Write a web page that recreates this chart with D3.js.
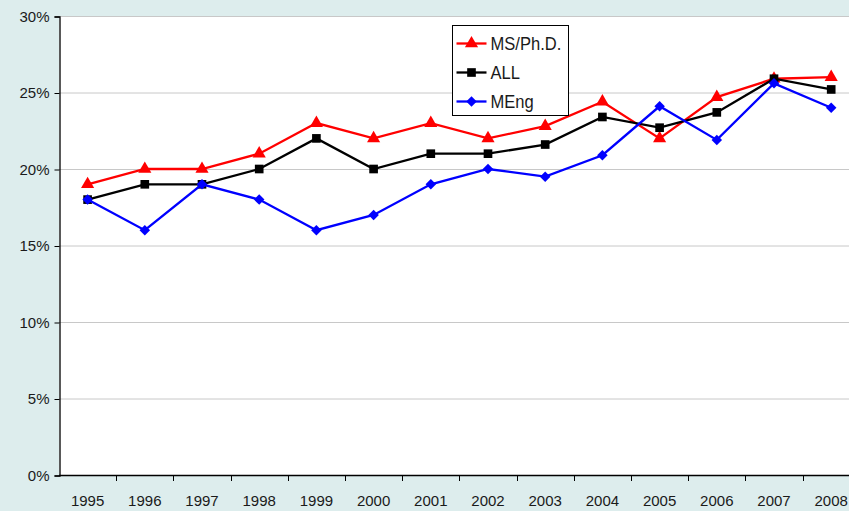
<!DOCTYPE html>
<html>
<head>
<meta charset="utf-8">
<script src="https://cdn.jsdelivr.net/npm/d3@7"></script>
<style>
  body { margin: 0; background: #ddeded; }
  svg { display: block; }
  text { font-family: "Liberation Sans", Arial, sans-serif; fill: #1a1a1a; }
</style>
</head>
<body>
<div id="chart"></div>
<script>
// Chart data (share of graduates, %)
var years = ["1995", "1996", "1997", "1998", "1999", "2000", "2001",
             "2002", "2003", "2004", "2005", "2006", "2007", "2008"];
var msPhd = [19, 20, 20, 21, 23, 22, 23, 22, 22.8, 24.4, 22, 24.7, 25.9, 26.0];
var all   = [18, 19, 19, 20, 22, 20, 21, 21, 21.6, 23.4, 22.7, 23.7, 25.9, 25.2];
var meng  = [18, 16, 19, 18, 16, 17, 19, 20, 19.5, 20.9, 24.1, 21.9, 25.6, 24.0];
var yTicks = [0, 5, 10, 15, 20, 25, 30];

// square-ish diamond like the spreadsheet marker (d3's own is too narrow)
var diamond = {
  draw: function(ctx, size) {
    var r = Math.sqrt(size / 2);
    ctx.moveTo(0, -r);
    ctx.lineTo(r, 0);
    ctx.lineTo(0, r);
    ctx.lineTo(-r, 0);
    ctx.closePath();
  }
};

var series = [
  { name: "MS/Ph.D.", values: msPhd, color: "#ff0000", marker: d3.symbolTriangle, size: 75 },
  { name: "ALL",      values: all,   color: "#000000", marker: d3.symbolSquare,   size: 75 },
  { name: "MEng",     values: meng,  color: "#0000ff", marker: diamond,           size: 55 }
];

var width = 849, height = 511;
// plot area: the category band runs past the right edge of the picture, as in the original
var m = { left: 59, top: 16, bottom: 36 };
var step = 57.2;

var svg = d3.select("#chart").append("svg")
  .attr("width", width)
  .attr("height", height);

var x = d3.scaleBand()
  .domain(years)
  .range([m.left, m.left + step * years.length]);

var y = d3.scaleLinear()
  .domain([0, 30])
  .range([height - m.bottom, m.top]);

// white plot background
svg.append("rect")
  .attr("x", x.range()[0])
  .attr("y", y(30))
  .attr("width", x.range()[1] - x.range()[0])
  .attr("height", y(0) - y(30))
  .attr("fill", "#fff");

// horizontal gridlines
svg.append("g")
  .selectAll("line")
  .data(yTicks.filter(function(d) { return d > 0; }))
  .enter().append("line")
  .attr("x1", x.range()[0])
  .attr("x2", x.range()[1])
  .attr("y1", function(d) { return y(d) + 0.5; })
  .attr("y2", function(d) { return y(d) + 0.5; })
  .attr("stroke", "#c8c8c8")
  .attr("stroke-width", 1);

// y axis
var yAxis = svg.append("g")
  .attr("transform", "translate(" + (m.left + 0.5) + ",0.5)")
  .call(d3.axisLeft(y)
    .tickValues(yTicks)
    .tickFormat(function(d) { return d + "%"; })
    .tickSize(5)
    .tickPadding(5));
yAxis.select(".domain").attr("stroke", "#000").attr("stroke-width", 1.3);
yAxis.selectAll(".tick line").attr("stroke", "#000");
yAxis.selectAll("text").attr("font-size", 15).attr("font-family", null);

// x axis: labels centred on categories, ticks on the band boundaries
var xAxis = svg.append("g")
  .attr("transform", "translate(0," + (y(0) + 0.5) + ")")
  .call(d3.axisBottom(x).tickSize(0).tickPadding(20));
xAxis.select(".domain").remove();
xAxis.selectAll("text").attr("font-size", 15).attr("font-family", null);

svg.append("line")
  .attr("x1", x.range()[0])
  .attr("x2", x.range()[1])
  .attr("y1", y(0) + 0.5)
  .attr("y2", y(0) + 0.5)
  .attr("stroke", "#000")
  .attr("stroke-width", 1.3);

svg.append("g")
  .selectAll("line")
  .data(years.slice(1))
  .enter().append("line")
  .attr("x1", function(d) { return Math.round(x(d)) + 0.5; })
  .attr("x2", function(d) { return Math.round(x(d)) + 0.5; })
  .attr("y1", y(0))
  .attr("y2", y(0) + 6)
  .attr("stroke", "#000");

// series lines and markers
var line = d3.line()
  .x(function(d, i) { return x(years[i]) + x.bandwidth() / 2; })
  .y(function(d) { return y(d); });

series.forEach(function(s) {
  var g = svg.append("g");
  g.append("path")
    .datum(s.values)
    .attr("d", line)
    .attr("fill", "none")
    .attr("stroke", s.color)
    .attr("stroke-width", 2.3);
  g.selectAll("path.mark")
    .data(s.values)
    .enter().append("path")
    .attr("class", "mark")
    .attr("d", d3.symbol().type(s.marker).size(s.size))
    .attr("transform", function(d, i) {
      return "translate(" + (x(years[i]) + x.bandwidth() / 2) + "," + y(d) + ")";
    })
    .attr("fill", s.color);
});

// legend box
var leg = svg.append("g").attr("transform", "translate(452.5,25.5)");
leg.append("rect")
  .attr("width", 116)
  .attr("height", 90)
  .attr("fill", "#fff")
  .attr("stroke", "#000");

var item = leg.selectAll("g.item")
  .data(series)
  .enter().append("g")
  .attr("class", "item")
  .attr("transform", function(d, i) { return "translate(0," + (18 + i * 29) + ")"; });

item.append("line")
  .attr("x1", 4)
  .attr("x2", 34)
  .attr("stroke", function(d) { return d.color; })
  .attr("stroke-width", 2.3);
item.append("path")
  .attr("d", function(d) { return d3.symbol().type(d.marker).size(d.size)(); })
  .attr("transform", "translate(19,0)")
  .attr("fill", function(d) { return d.color; });
// the original legend font is a little condensed
item.append("text")
  .attr("transform", "translate(38,0) scale(0.92,1)")
  .attr("dy", "0.36em")
  .attr("font-size", 18)
  .text(function(d) { return d.name; });
</script>
</body>
</html>
